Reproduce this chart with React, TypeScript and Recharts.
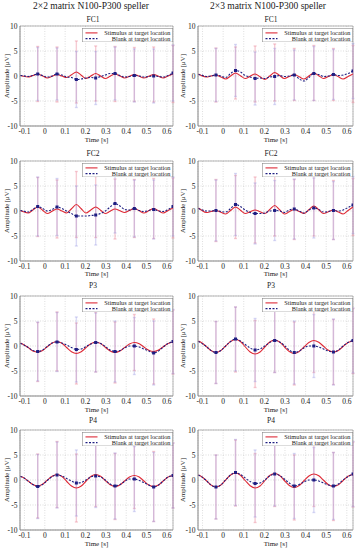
import React from 'react';
import { ComposedChart, Line, Scatter, ErrorBar, XAxis, YAxis, CartesianGrid, ReferenceArea } from 'recharts';

// time samples [s]
const times = [-0.12, -0.106, -0.082, -0.059, -0.035, -0.011, 0.012, 0.036, 0.06, 0.084, 0.107, 0.131, 0.155, 0.179, 0.202, 0.226, 0.25, 0.274, 0.297, 0.321, 0.345, 0.369, 0.392, 0.416, 0.44, 0.464, 0.487, 0.511, 0.535, 0.559, 0.582, 0.606, 0.63];
// indices of samples that carry markers and error bars
const barIdx = [4, 8, 12, 16, 20, 24, 28, 32];

const columnTitles = ['2×2 matrix N100-P300 speller', '2×3 matrix N100-P300 speller'];
const channels = ['FC1', 'FC2', 'P3', 'P4'];
const xTicks = [-0.1, 0, 0.1, 0.2, 0.3, 0.4, 0.5, 0.6];
const yTicks = [-10, -5, 0, 5, 10];
const legendLabels = ['Stimulus at target location', 'Blank at target location'];

// 2x2 FC1
const fc1_2x2_stim = [0.1, -0.05, -0.2, 0.1, 0.4, 0.0, -0.4, -0.05, 0.3, 0.0, -0.3, 0.25, 0.8, 0.15, -0.5, 0.0, 0.5, 0.0, -0.5, -0.05, 0.4, 0.0, -0.4, -0.05, 0.3, -0.05, -0.4, -0.05, 0.3, -0.05, -0.4, 0.0, 0.4];
const fc1_2x2_blank = [0.1, 0.05, -0.1, 0.1, 0.4, 0.1, -0.2, 0.0, 0.4, 0.2, -0.2, -0.3, -0.7, -0.6, -0.4, -0.3, -0.4, -0.1, 0.2, 0.5, 0.5, 0.1, -0.2, -0.1, 0.1, 0.0, -0.2, -0.1, 0.0, -0.1, -0.2, 0.1, 0.6];
const fc1_2x2_stimSd = [5.5, 5.5, 6.2, 5.5, 5.5, 5.4, 5.5, 5.7];
const fc1_2x2_blankSd = [5.3, 5.2, 5.6, 5.3, 5.3, 5.3, 5.4, 5.6];
// 2x3 FC1
const fc1_2x3_stim = [0.4, 0.1, -0.2, 0.0, 0.2, -0.2, -0.6, 0.0, 0.6, 0.05, -0.5, -0.05, 0.4, -0.15, -0.7, 0.0, 0.7, 0.1, -0.5, -0.1, 0.3, -0.15, -0.6, 0.0, 0.6, 0.05, -0.5, -0.1, 0.3, -0.15, -0.6, -0.1, 0.4];
const fc1_2x3_blank = [0.3, 0.2, -0.1, 0.0, 0.2, 0.0, -0.3, 0.5, 1.1, 0.8, 0.1, -0.2, -0.5, -0.4, -0.5, -0.2, -0.1, 0.1, -0.1, 0.0, 0.2, -0.6, -1.0, -0.3, 0.5, 0.3, -0.1, 0.0, 0.3, 0.1, 0.2, 0.5, 1.0];
const fc1_2x3_stimSd = [5.4, 5.2, 5.6, 5.7, 5.2, 5.5, 5.2, 5.7];
const fc1_2x3_blankSd = [5.3, 5.2, 5.3, 5.6, 5.0, 5.4, 5.0, 5.5];
// 2x2 FC2
const fc2_2x2_stim = [0.1, -0.15, -0.4, 0.2, 0.8, 0.15, -0.5, -0.05, 0.4, 0.0, -0.4, 0.45, 1.3, 0.45, -0.4, 0.2, 0.8, 0.15, -0.5, -0.05, 0.4, 0.05, -0.3, 0.1, 0.5, 0.05, -0.4, 0.05, 0.5, 0.05, -0.4, 0.1, 0.6];
const fc2_2x2_blank = [0.1, 0.0, -0.2, 0.3, 0.9, 0.5, 0.0, 0.3, 0.8, 0.5, 0.0, -0.5, -1.0, -1.0, -1.0, -0.9, -0.8, -0.5, 0.0, 0.8, 1.5, 1.0, 0.3, 0.2, 0.5, 0.1, -0.1, 0.1, 0.3, 0.0, -0.1, 0.3, 0.9];
const fc2_2x2_stimSd = [5.9, 5.8, 6.6, 6.1, 6.0, 5.8, 6.0, 6.0];
const fc2_2x2_blankSd = [5.9, 5.7, 6.0, 6.0, 5.9, 5.7, 5.9, 5.9];
// 2x3 FC2
const fc2_2x3_stim = [0.6, 0.2, -0.3, -0.1, 0.1, -0.25, -0.6, 0.1, 0.8, 0.15, -0.5, -0.15, 0.2, -0.15, -0.5, 0.3, 1.1, 0.25, -0.6, -0.15, 0.3, -0.1, -0.5, 0.25, 1.0, 0.25, -0.5, -0.15, 0.2, -0.2, -0.6, 0.1, 0.8];
const fc2_2x3_blank = [0.5, 0.3, 0.0, 0.0, 0.1, -0.1, -0.2, 0.5, 1.3, 0.9, 0.2, -0.3, -0.5, -0.5, -0.4, 0.0, 0.1, 0.0, -0.3, 0.2, 0.4, 0.0, -0.4, 0.2, 0.6, 0.3, -0.2, -0.1, 0.1, 0.0, 0.2, 0.7, 1.2];
const fc2_2x3_stimSd = [6.2, 6.3, 6.6, 6.1, 6.0, 6.0, 5.9, 5.7];
const fc2_2x3_blankSd = [6.1, 6.2, 6.1, 6.0, 6.0, 6.0, 5.8, 5.7];
// 2x2 P3
const p3_2x2_stim = [0.6, 0.3, -0.3, -1.0, -1.2, -0.9, -0.15, 0.6, 0.9, 0.55, -0.3, -1.15, -1.5, -1.15, -0.35, 0.45, 0.8, 0.5, -0.25, -1.0, -1.3, -1.0, -0.3, 0.4, 0.7, 0.45, -0.2, -0.85, -1.1, -0.8, -0.15, 0.5, 0.8];
const p3_2x2_blank = [0.5, 0.3, -0.3, -0.9, -1.1, -0.8, -0.1, 0.6, 0.8, 0.6, 0.2, -0.3, -0.7, -0.6, -0.1, 0.4, 0.7, 0.5, -0.1, -0.8, -1.1, -0.9, -0.4, 0.0, 0.0, -0.2, -0.6, -1.0, -1.4, -1.0, -0.2, 0.5, 0.9];
const p3_2x2_stimSd = [5.9, 5.9, 6.1, 6.0, 6.1, 5.6, 6.5, 6.4];
const p3_2x2_blankSd = [5.9, 5.9, 6.5, 5.9, 6.1, 5.7, 6.4, 6.4];
// 2x3 P3
const p3_2x3_stim = [1.0, 0.7, -0.1, -0.9, -1.3, -0.9, 0.0, 0.9, 1.3, 0.9, -0.15, -1.2, -1.6, -1.2, -0.2, 0.8, 1.2, 0.8, -0.15, -1.1, -1.5, -1.1, -0.2, 0.7, 1.1, 0.75, -0.05, -0.85, -1.2, -0.9, -0.1, 0.7, 1.0];
const p3_2x3_blank = [0.9, 0.6, -0.1, -0.9, -1.3, -0.9, 0.0, 0.9, 1.4, 1.0, 0.3, -0.4, -0.8, -0.6, 0.0, 0.7, 1.1, 0.8, 0.1, -0.8, -1.3, -1.0, -0.4, 0.0, 0.0, -0.2, -0.6, -1.0, -1.2, -0.8, 0.0, 0.7, 1.1];
const p3_2x3_stimSd = [6.2, 6.5, 6.7, 6.5, 6.3, 6.4, 6.5, 6.5];
const p3_2x3_blankSd = [6.2, 6.4, 6.3, 6.4, 6.3, 6.3, 6.6, 6.5];
// 2x2 P4
const p4_2x2_stim = [0.7, 0.5, -0.2, -0.9, -1.2, -0.85, -0.05, 0.75, 1.1, 0.7, -0.25, -1.2, -1.6, -1.2, -0.25, 0.7, 1.1, 0.75, -0.1, -0.95, -1.3, -1.0, -0.2, 0.6, 0.9, 0.6, -0.2, -1.0, -1.3, -1.0, -0.2, 0.6, 0.9];
const p4_2x2_blank = [0.7, 0.5, -0.2, -0.9, -1.3, -0.9, -0.1, 0.7, 1.0, 0.8, 0.3, -0.2, -0.6, -0.5, 0.0, 0.6, 0.8, 0.6, 0.0, -0.8, -1.2, -0.9, -0.3, 0.2, 0.2, -0.1, -0.5, -1.0, -1.4, -1.0, -0.2, 0.6, 0.9];
const p4_2x2_stimSd = [6.4, 6.6, 6.8, 6.4, 6.6, 6.6, 7.0, 6.5];
const p4_2x2_blankSd = [6.4, 6.6, 6.6, 6.3, 6.6, 6.5, 6.9, 6.5];
// 2x3 P4
const p4_2x3_stim = [1.0, 0.7, -0.1, -1.0, -1.4, -1.0, 0.0, 1.0, 1.4, 0.95, -0.1, -1.15, -1.6, -1.2, -0.15, 0.9, 1.3, 0.9, -0.1, -1.1, -1.5, -1.1, -0.15, 0.8, 1.2, 0.85, -0.05, -0.95, -1.3, -0.95, -0.1, 0.75, 1.1];
const p4_2x3_blank = [1.0, 0.7, -0.1, -1.0, -1.4, -1.0, 0.0, 1.0, 1.5, 1.1, 0.4, -0.3, -0.7, -0.6, 0.0, 0.8, 1.2, 0.9, 0.2, -0.6, -1.2, -0.9, -0.4, 0.0, 0.0, -0.2, -0.6, -1.0, -1.2, -0.8, 0.0, 0.7, 1.2];
const p4_2x3_stimSd = [6.4, 6.6, 6.9, 6.6, 6.5, 6.5, 6.8, 6.5];
const p4_2x3_blankSd = [6.4, 6.6, 6.7, 6.4, 6.5, 6.5, 6.7, 6.5];

const panels = [
  { col: 0, row: 0, stim: fc1_2x2_stim, blank: fc1_2x2_blank, stimSd: fc1_2x2_stimSd, blankSd: fc1_2x2_blankSd },
  { col: 1, row: 0, stim: fc1_2x3_stim, blank: fc1_2x3_blank, stimSd: fc1_2x3_stimSd, blankSd: fc1_2x3_blankSd },
  { col: 0, row: 1, stim: fc2_2x2_stim, blank: fc2_2x2_blank, stimSd: fc2_2x2_stimSd, blankSd: fc2_2x2_blankSd },
  { col: 1, row: 1, stim: fc2_2x3_stim, blank: fc2_2x3_blank, stimSd: fc2_2x3_stimSd, blankSd: fc2_2x3_blankSd },
  { col: 0, row: 2, stim: p3_2x2_stim, blank: p3_2x2_blank, stimSd: p3_2x2_stimSd, blankSd: p3_2x2_blankSd },
  { col: 1, row: 2, stim: p3_2x3_stim, blank: p3_2x3_blank, stimSd: p3_2x3_stimSd, blankSd: p3_2x3_blankSd },
  { col: 0, row: 3, stim: p4_2x2_stim, blank: p4_2x2_blank, stimSd: p4_2x2_stimSd, blankSd: p4_2x2_blankSd },
  { col: 1, row: 3, stim: p4_2x3_stim, blank: p4_2x3_blank, stimSd: p4_2x3_stimSd, blankSd: p4_2x3_blankSd },
];

const FONT = '"Liberation Serif", "DejaVu Serif", serif';
const RED = '#de2a36';
const BLUE = '#1e1e82';
const X_DOMAIN: [number, number] = [-0.122, 0.63];

const rowTops = [26, 160.7, 296, 430];
const subTitleY = [19.5, 153.5, 285.5, 421];
const colGeom = [
  { divLeft: 0, yAxisW: 20, width: 178, right: 5, plotLeft: 20, plotRight: 173, titleX: 91, subX: 93, yLabelX: 7 },
  { divLeft: 177, yAxisW: 21, width: 180, right: 4, plotLeft: 198, plotRight: 353, titleX: 268, subX: 271, yLabelX: 183 },
];
const PLOT_H = 100;
const TOP_M = 5;
const XAXIS_H = 12;

const fmtX = (v: number) => (Math.abs(v) < 1e-9 ? '0' : v.toFixed(1));

function Txt({ x, y, size, children, rotate }: any) {
  return (
    <div
      style={{
        position: 'absolute',
        left: x,
        top: y,
        transform: `translate(-50%, -50%)${rotate ? ' rotate(-90deg)' : ''}`,
        fontFamily: FONT,
        fontSize: size,
        color: '#1a1a1a',
        whiteSpace: 'nowrap',
        lineHeight: 1,
      }}
    >
      {children}
    </div>
  );
}

function LegendBox({ right, top }: { right: number; top: number }) {
  const w = 91;
  const h = 14.3;
  return (
    <svg
      width={w}
      height={h}
      style={{ position: 'absolute', left: right - w, top, zIndex: 5 }}
    >
      <rect x={0.3} y={0.3} width={w - 0.6} height={h - 0.6} fill="#fff" stroke="#8a8a8a" strokeWidth={0.6} />
      <line x1={3.5} x2={15.5} y1={4.9} y2={4.9} stroke={RED} strokeWidth={1.1} />
      <line x1={3.5} x2={15.5} y1={10.6} y2={10.6} stroke={BLUE} strokeWidth={1.1} strokeDasharray="2 1.5" />
      <text x={w - 2.5} y={4.9} textAnchor="end" dominantBaseline="central" fontFamily={FONT} fontSize={6.3} fill="#1a1a1a">
        {legendLabels[0]}
      </text>
      <text x={w - 2.5} y={10.6} textAnchor="end" dominantBaseline="central" fontFamily={FONT} fontSize={6.3} fill="#1a1a1a">
        {legendLabels[1]}
      </text>
    </svg>
  );
}

const Square = (props: any) => {
  const { cx, cy } = props;
  if (cx == null || cy == null) return <g />;
  return <rect x={cx - 1.5} y={cy - 1.5} width={3} height={3} fill={BLUE} />;
};
const NoShape = () => <g />;

function Panel({ p }: { p: any }) {
  const g = colGeom[p.col];
  const top = rowTops[p.row];
  const rows = times.map((t, i) => ({ t, stim: p.stim[i], blank: p.blank[i] }));
  const stimPts = barIdx.map((i, k) => ({ t: times[i], v: p.stim[i], err: p.stimSd[k] }));
  const blankPts = barIdx.map((i, k) => ({ t: times[i], v: p.blank[i], err: p.blankSd[k] }));
  return (
    <div style={{ position: 'absolute', left: g.divLeft, top: top - TOP_M }}>
      <ComposedChart
        width={g.width}
        height={TOP_M + PLOT_H + XAXIS_H}
        data={rows}
        margin={{ top: TOP_M, right: g.right, bottom: 0, left: 0 }}
      >
        <CartesianGrid stroke="#c8c8c8" strokeDasharray="1 1.5" strokeWidth={0.6} />
        <XAxis
          type="number"
          dataKey="t"
          domain={X_DOMAIN}
          allowDataOverflow
          ticks={xTicks}
          tickFormatter={fmtX}
          height={XAXIS_H}
          tickSize={0}
          tickMargin={2.5}
          axisLine={{ stroke: '#888', strokeWidth: 0.6 }}
          tick={{ fontFamily: FONT, fontSize: 7.5, fill: '#1a1a1a' }}
          interval={0}
        />
        <YAxis
          type="number"
          domain={[-10, 10]}
          allowDataOverflow
          ticks={yTicks}
          width={g.yAxisW}
          tickSize={0}
          tickMargin={2.5}
          axisLine={{ stroke: '#888', strokeWidth: 0.6 }}
          tick={{ fontFamily: FONT, fontSize: 7.5, fill: '#1a1a1a' }}
          interval={0}
        />
        <ReferenceArea x1={X_DOMAIN[0]} x2={X_DOMAIN[1]} y1={-10} y2={10} fill="none" fillOpacity={0} stroke="#888" strokeWidth={0.6} />
        <Scatter data={stimPts} dataKey="v" shape={NoShape} isAnimationActive={false}>
          <ErrorBar dataKey="err" direction="y" width={1.5} stroke="rgba(236,140,158,0.45)" strokeWidth={1.4} isAnimationActive={false} />
        </Scatter>
        <Scatter data={blankPts} dataKey="v" shape={NoShape} isAnimationActive={false}>
          <ErrorBar dataKey="err" direction="y" width={1.5} stroke="rgba(150,150,225,0.35)" strokeWidth={1.4} isAnimationActive={false} />
        </Scatter>
        <Line type="monotone" dataKey="stim" stroke={RED} strokeWidth={1.1} dot={false} isAnimationActive={false} />
        <Line type="monotone" dataKey="blank" stroke={BLUE} strokeWidth={1.1} strokeDasharray="2 1.5" dot={false} isAnimationActive={false} />
        <Scatter data={blankPts} dataKey="v" shape={Square} isAnimationActive={false} />
      </ComposedChart>
    </div>
  );
}

export default function App() {
  return (
    <div style={{ position: 'absolute', left: 0, top: 0, width: 357, height: 550, overflow: 'hidden', background: '#fff' }}>
      {panels.map((p, idx) => (
        <Panel key={idx} p={p} />
      ))}
      {colGeom.map((g, c) => (
        <React.Fragment key={'c' + c}>
          <Txt x={g.titleX} y={7} size={9.5}>{columnTitles[c]}</Txt>
          {channels.map((ch, r) => (
            <React.Fragment key={'r' + r}>
              <Txt x={g.subX} y={subTitleY[r]} size={7.5}>{ch}</Txt>
              <Txt x={g.yLabelX} y={rowTops[r] + PLOT_H / 2} size={6.8} rotate>Amplitude [μV]</Txt>
              <Txt x={(g.plotLeft + g.plotRight) / 2} y={rowTops[r] + PLOT_H + 13.5} size={7}>Time [s]</Txt>
              <LegendBox right={g.plotRight} top={rowTops[r] + 2} />
            </React.Fragment>
          ))}
        </React.Fragment>
      ))}
    </div>
  );
}
